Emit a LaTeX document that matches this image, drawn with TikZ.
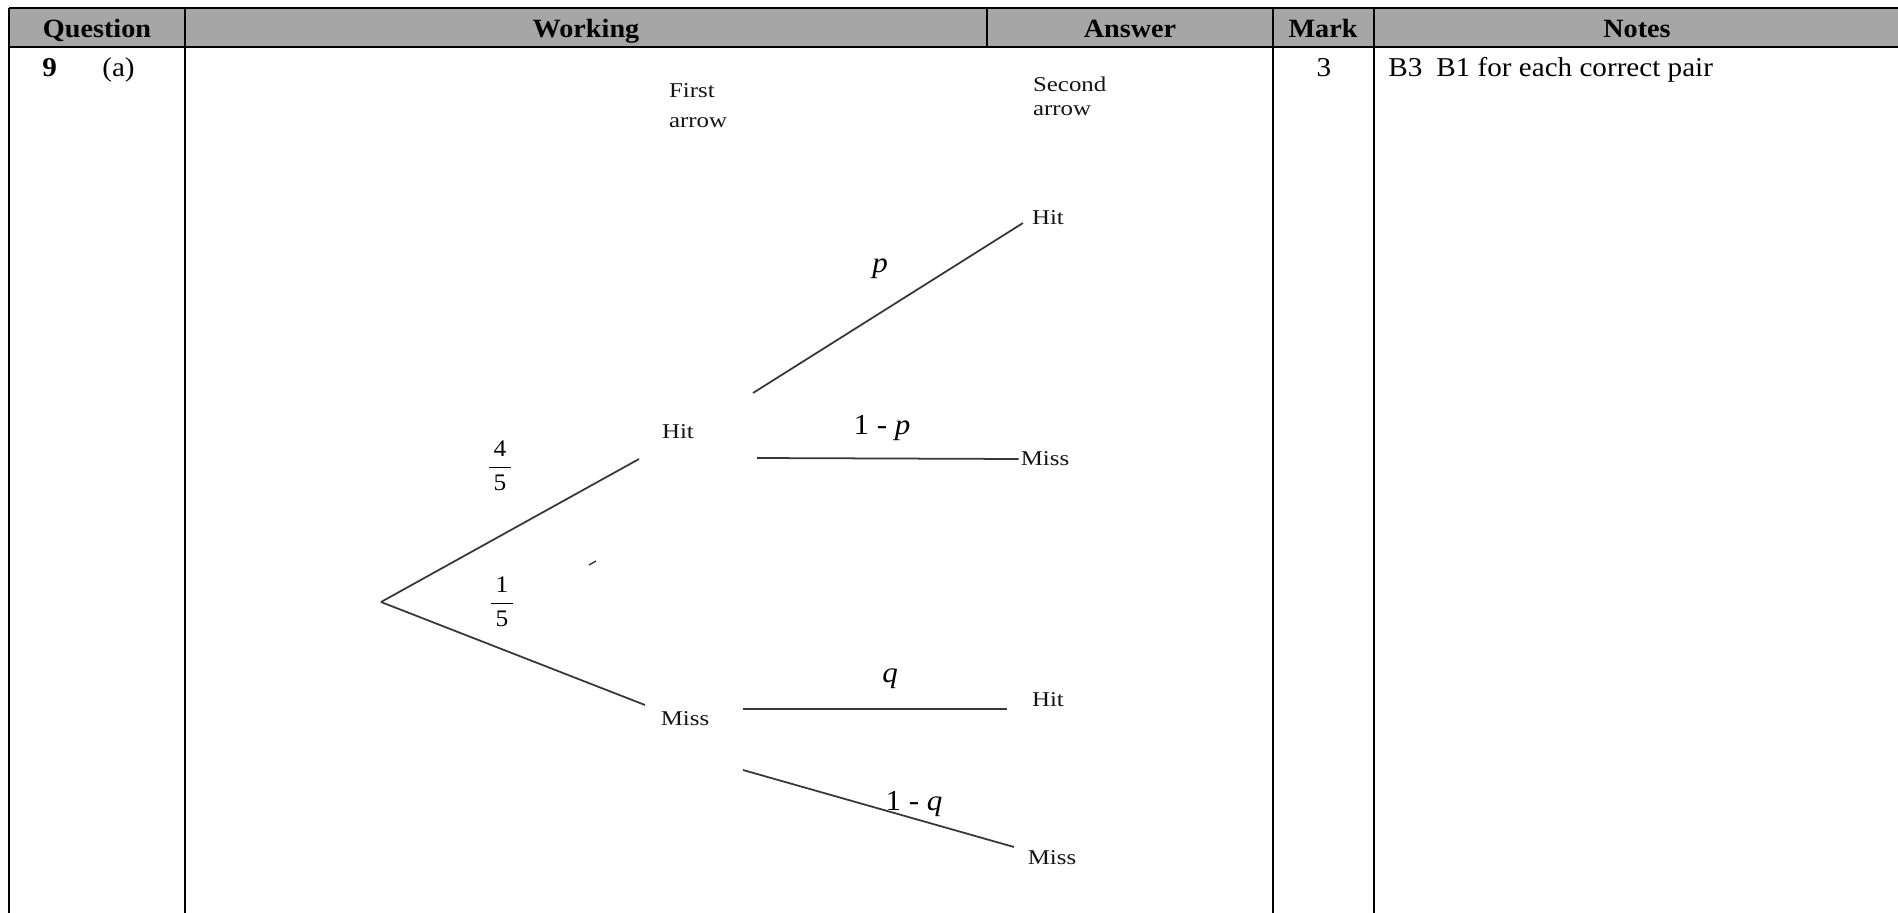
\documentclass[tikz,border=0pt]{standalone}
\usepackage{fontspec}
\setmainfont{Liberation Serif}[FakeStretch=1.07]
\newfontfamily\treefont{Liberation Serif}[FakeStretch=1.18]
\usetikzlibrary{positioning, calc}
\definecolor{headgray}{RGB}{166,166,166}
\definecolor{branchgray}{RGB}{55,55,55}
\definecolor{darktext}{RGB}{20,20,20}

\tikzset{
  rule/.style={line width=1.4pt, draw=black},
  branch/.style={line width=1pt, draw=branchgray},
  headtext/.style={font=\fontsize{15}{18}\selectfont\bfseries, anchor=base, inner sep=0pt},
  bodytext/.style={font=\fontsize{15.5}{18}\selectfont, anchor=base, inner sep=0pt},
  treetext/.style={font=\treefont\fontsize{12}{14}\selectfont, text=darktext, inner sep=1pt},
  problabel/.style={font=\fontsize{16.5}{18}\selectfont, inner sep=1pt},
  fraclabel/.style={font=\fontsize{13.5}{15}\selectfont, inner sep=1pt}
}

\begin{document}
\begin{tikzpicture}[x=0.02cm, y=-0.02cm]
    \useasboundingbox (0,0) rectangle (1898,913);

    % table frame
    \fill[headgray] (9,8) rectangle (1898,47);
    \draw[rule] (9,8) -- (1898,8);
    \draw[rule] (9,47) -- (1898,47);
    \foreach \xcol in {9,185,1273,1374}
        \draw[rule] (\xcol,8) -- (\xcol,913);
    \draw[rule] (987,8) -- (987,47);

    % header row
    \node[headtext] (hquestion) at (97,37) {Question};
    \node[headtext] (hworking) at (586,37) {Working};
    \node[headtext] (hanswer) at (1130,37) {Answer};
    \node[headtext] (hmark) at (1323,37) {Mark};
    \node[headtext] (hnotes) at (1637,37) {Notes};

    % body row
    \node[bodytext, anchor=base west, font=\fontsize{15.5}{18}\selectfont\bfseries] (qnum) at (42,76) {9};
    \node[bodytext, anchor=base west] (qpart) at (102,76) {(a)};
    \node[bodytext] (mark) at (1324,76) {3};
    \node[bodytext, anchor=base west] (ncode) at (1388,76) {B3};
    \node[bodytext, anchor=base west] (ntext) at (1436,76) {B1 for each correct pair};

    % column titles of the tree
    \node[treetext, anchor=west, align=left, font=\treefont\fontsize{12}{17}\selectfont] (firsthead) at (667,106) {First\\arrow};
    \node[treetext, anchor=west, align=left, font=\treefont\fontsize{12}{13.5}\selectfont] (secondhead) at (1031,96) {Second\\arrow};

    % first arrow
    \coordinate (root) at (381,602);
    \node[treetext] (hitA) at (678,432) {Hit};
    \node[treetext] (missA) at (685,719) {Miss};
    \coordinate (hitAend) at (639,459);
    \coordinate (missAend) at (645,705);
    \draw[branch] (root) -- (hitAend);
    \draw[branch] (root) -- (missAend);
    \node[fraclabel] (pfour) at (500,466) {$\displaystyle\frac{\,\mbox{4}\,}{\,\mbox{5}\,}$};
    \node[fraclabel] (pone) at (502,602) {$\displaystyle\frac{\,\mbox{1}\,}{\,\mbox{5}\,}$};
    \draw[branchgray, line width=0.8pt] (589,565) -- (596,561);

    % second arrow after a hit
    \node[treetext] (hitB) at (1048,218) {Hit};
    \node[treetext] (missB) at (1045,459) {Miss};
    \coordinate (pstart) at (753,393);
    \coordinate (pend) at (1023,223);
    \coordinate (npstart) at (757,458);
    \draw[branch] (pstart) -- (pend);
    \draw[branch] (npstart) -- (missB.west);
    \node[problabel] (plab) at (880,269) {\textit{p}};
    \node[problabel] (nplab) at (882,428) {1 - \textit{p}};

    % second arrow after a miss
    \node[treetext] (hitC) at (1048,700) {Hit};
    \node[treetext] (missC) at (1052,858) {Miss};
    \coordinate (qstart) at (743,709);
    \coordinate (qend) at (1007,709);
    \coordinate (nqstart) at (743,770);
    \coordinate (nqend) at (1014,847);
    \draw[branch] (qstart) -- (qend);
    \draw[branch] (nqstart) -- (nqend);
    \node[problabel] (qlab) at (890,679) {\textit{q}};
    \node[problabel] (nqlab) at (914,804) {1 - \textit{q}};
\end{tikzpicture}
\end{document}
